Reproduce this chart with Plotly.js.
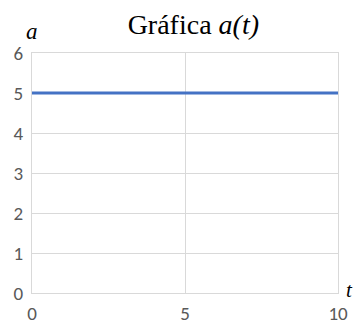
<!DOCTYPE html>
<html>
<head>
<meta charset="utf-8">
<script src="https://cdn.plot.ly/plotly-3.0.1.min.js"></script>
<style>html,body{margin:0;padding:0;background:#fff;}#chart{width:358px;height:326px;}</style>
</head>
<body>
<div id="chart"></div>
<script>
const tValues = [0, 10];
const aValues = [5, 5];
const xTicks = [0, 5, 10];
const yTicks = [0, 1, 2, 3, 4, 5, 6];

const trace = {
  x: tValues, y: aValues, type: 'scatter', mode: 'lines',
  line: {color: '#4472C4', width: 3}, hoverinfo: 'skip'
};
const tickFont = {family: 'Carlito, "Open Sans", "Liberation Sans", sans-serif', size: 19, color: '#595959'};
const serif = '"Liberation Serif", "Times New Roman", serif';
const layout = {
  width: 358, height: 326,
  margin: {l: 32, r: 20, t: 53, b: 33},
  paper_bgcolor: '#ffffff', plot_bgcolor: '#ffffff',
  showlegend: false,
  title: {text: 'Gráfica <i>a(t)</i>', font: {family: serif, size: 28, color: '#000000'},
          x: 0.54, xanchor: 'center', y: 0.9245, yanchor: 'middle'},
  xaxis: {range: [0, 10], tickvals: xTicks, ticktext: xTicks.map(String), tickfont: tickFont,
          showgrid: true, gridcolor: '#D9D9D9', gridwidth: 1, zeroline: false, ticklabelstandoff: 3,
          showline: true, linecolor: '#D9D9D9', linewidth: 1, mirror: true, ticks: '', fixedrange: true},
  yaxis: {range: [0, 6], tickvals: yTicks, ticktext: yTicks.map(String), tickfont: tickFont,
          showgrid: true, gridcolor: '#D9D9D9', gridwidth: 1, zeroline: false, ticklabelstandoff: 4,
          showline: true, linecolor: '#D9D9D9', linewidth: 1, mirror: true, ticks: '', fixedrange: true},
  annotations: [
    {text: '<i>a</i>', xref: 'paper', yref: 'paper', x: 0.0, y: 1.03, xanchor: 'center', yanchor: 'bottom', showarrow: false,
     font: {family: serif, size: 23, color: '#000000'}},
    {text: '<i>t</i>', xref: 'paper', yref: 'paper', x: 1.02, y: 0.0, xanchor: 'left', yanchor: 'middle', yshift: 3, showarrow: false,
     font: {family: serif, size: 21, color: '#000000'}}
  ]
};
Plotly.newPlot('chart', [trace], layout, {displayModeBar: false, staticPlot: true});
</script>
</body>
</html>
